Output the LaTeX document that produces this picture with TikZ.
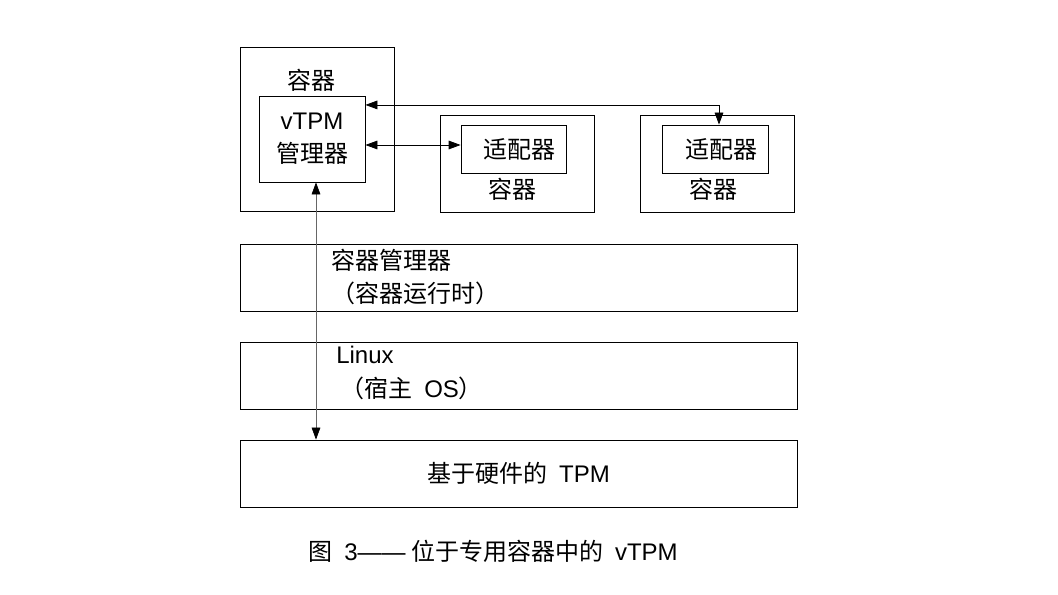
\documentclass[tikz,border=0pt]{standalone}
\usepackage{fontspec}
\setmainfont{Noto Sans CJK SC}
\newfontfamily\lat{Liberation Sans}
\usetikzlibrary{arrows.meta,positioning}

\begin{document}
\begin{tikzpicture}[x=0.75pt,y=-0.75pt,font=\fontsize{18}{25}\selectfont]
      \useasboundingbox (0,0) rectangle (1058,595);
      \begin{scope}[every node/.style={draw=black,line width=0.6pt,inner sep=0pt}]
        \node[minimum width=115.5pt,minimum height=123pt] (c1) at (317,129)   {};
        \node[minimum width=115.5pt,minimum height=72.75pt] (c2) at (517,163.5) {};
        \node[minimum width=115.5pt,minimum height=72.75pt] (c3) at (717,163.5) {};
        \node[minimum width=79.5pt,minimum height=64.5pt,align=center] (vtpm) at (312,139) {{\lat vTPM}\\管理器};
        \node[minimum width=78.75pt,minimum height=36pt] (adA) at (513.5,149) {\hspace{9pt}适配器};
        \node[minimum width=79.5pt,minimum height=36pt] (adB) at (715,149)   {\hspace{9pt}适配器};
        \node[minimum width=417.75pt,minimum height=50.25pt] (rt) at (518.5,277.5) {};
        \node[minimum width=417.75pt,minimum height=50.25pt] (os) at (518.5,375.5) {};
        \node[minimum width=417.75pt,minimum height=50.25pt] (tpm) at (518.5,473.5) {基于硬件的 {\lat\ TPM}};
      \end{scope}
      \begin{scope}[every node/.style={inner sep=0pt}]
        \node (l1) at (311,80)  {容器};
        \node (l2) at (512,189) {容器};
        \node (l3) at (713,189) {容器};
        \node[anchor=west,align=left] (rtlabel) at (331,277) {容器管理器\\（容器运行时）};
        \node[anchor=west,align=left] (oslabel) at (336,373) {{\lat Linux}\\ \hspace{3pt}（宿主 {\lat\ OS}）};
        \node (cap) at (493,551) {图 {\lat\ 3——} 位于专用容器中的 {\lat\ vTPM}};
      \end{scope}
      \coordinate (hop) at ([yshift=-7pt]vtpm.north east);
      \coordinate (tap) at ([xshift=3pt]vtpm.south);
      \begin{scope}[>={Triangle[length=9pt,width=6.5pt,black]}]
        \draw[<->,line width=0.6pt] (hop) -| ([xshift=3pt]adB.north);
        \draw[<->,line width=0.6pt] ([yshift=-4.5pt]vtpm.east) -- ([yshift=3pt]adA.west);
        \draw[<->,draw=black!60,line width=0.5pt] (tap) -- (tap |- tpm.north);
      \end{scope}
    \end{tikzpicture}
\end{document}
